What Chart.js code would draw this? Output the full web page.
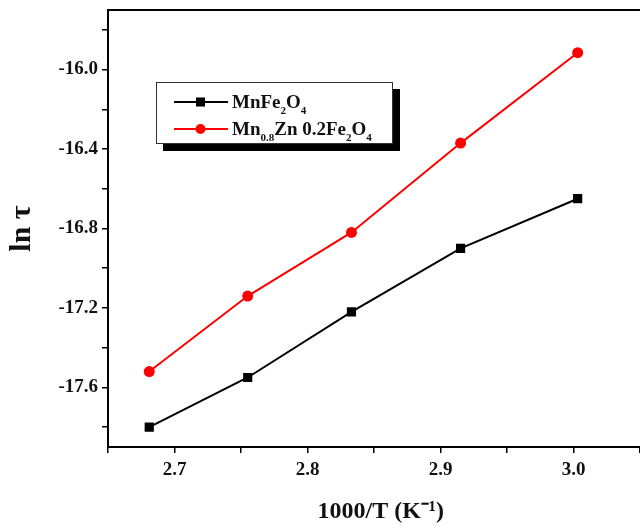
<!DOCTYPE html>
<html>
<head>
<meta charset="utf-8">
<script src="https://cdn.jsdelivr.net/npm/chart.js@4.4.1/dist/chart.umd.min.js"></script>
<style>
  body { margin: 0; overflow: hidden; background: #fff; width: 640px; height: 526px; }
  #wrap { position: absolute; left: 0; top: 0; width: 660px; height: 526px; }
  #legend {
    position: absolute; left: 156px; top: 82px; width: 235px; height: 60px;
    border: 1.5px solid #333; background: #fff; box-shadow: 7px 7px 0 #000;
    font: bold 19px 'Liberation Serif', 'Times New Roman', serif; color: #111;
  }
  .row { position: absolute; left: 17px; height: 24px; line-height: 24px; white-space: nowrap; }
  .row svg { vertical-align: middle; margin-right: 4px; }
  .row span { vertical-align: middle; }
  sub { font-size: 11px; vertical-align: -6px; line-height: 0; }
</style>
</head>
<body>
<div id="wrap"><canvas id="chart" width="660" height="526"></canvas></div>
<div id="legend">
  <div class="row" style="top:5px">
    <svg width="54" height="12"><line x1="0" y1="6" x2="54" y2="6" stroke="#000" stroke-width="2"/><rect x="22" y="1.5" width="9" height="9" fill="#000"/></svg><span>MnFe<sub>2</sub>O<sub>4</sub></span>
  </div>
  <div class="row" style="top:32px">
    <svg width="54" height="12"><line x1="0" y1="6" x2="54" y2="6" stroke="#f00" stroke-width="2"/><circle cx="26.5" cy="6" r="5" fill="#f00"/></svg><span>Mn<sub>0.8</sub>Zn 0.2Fe<sub>2</sub>O<sub>4</sub></span>
  </div>
</div>
<script>
// 1000/T values
const invT = [2.681, 2.755, 2.833, 2.915, 3.003]
// ln tau for each sample
const mnFe = [-17.80, -17.55, -17.22, -16.90, -16.65]
const mnZnFe = [-17.52, -17.14, -16.82, -16.37, -15.915]

const xTicks = [2.65, 2.70, 2.75, 2.80, 2.85, 2.90, 2.95, 3.00, 3.05]
const xLabels = [2.7, 2.8, 2.9, 3.0]
const yTicks = [-17.8, -17.6, -17.4, -17.2, -17.0, -16.8, -16.6, -16.4, -16.2, -16.0, -15.8]
const yLabels = [-17.6, -17.2, -16.8, -16.4, -16.0]

const serif = "'Liberation Serif', 'Times New Roman', serif"
const tickFont = { family: serif, size: 19, weight: 'bold' }

const toPoints = (ys) => invT.map((x, i) => ({ x: x, y: ys[i] }))
const isLabel = (list, v) => list.some((l) => Math.abs(l - v) < 1e-6)

const topBorder = {
  id: 'topBorder',
  afterDraw(chart) {
    const { ctx, chartArea } = chart
    ctx.save()
    ctx.strokeStyle = '#000'
    ctx.lineWidth = 2
    ctx.beginPath()
    ctx.moveTo(chartArea.left - 1, chartArea.top)
    ctx.lineTo(chartArea.right, chartArea.top)
    ctx.stroke()
    ctx.restore()
  }
}

let ctx = document.getElementById('chart').getContext('2d')

let chart = new Chart(ctx, {
  type: 'line',
  data: {
    datasets: [{
      label: 'MnFe2O4',
      data: toPoints(mnFe),
      borderColor: '#000',
      backgroundColor: '#000',
      borderWidth: 2,
      pointStyle: 'rect',
      pointRadius: 6.5,
      pointBorderWidth: 0,
      pointHoverRadius: 6.5
    }, {
      label: 'Mn0.8Zn 0.2Fe2O4',
      data: toPoints(mnZnFe),
      borderColor: '#f00',
      backgroundColor: '#f00',
      borderWidth: 2,
      pointStyle: 'circle',
      pointRadius: 5.5,
      pointBorderWidth: 0,
      pointHoverRadius: 5.5
    }]
  },
  options: {
    responsive: false,
    animation: false,
    layout: { padding: { top: 10, right: 3, left: 0, bottom: 0 } },
    plugins: { legend: { display: false }, tooltip: { enabled: false } },
    scales: {
      x: {
        type: 'linear',
        min: 2.65,
        max: 3.06,
        afterBuildTicks: (scale) => { scale.ticks = xTicks.map((v) => ({ value: v })) },
        afterFit: (scale) => { scale.height = 79; scale.paddingLeft = 0; scale.paddingRight = 0 },
        grid: { drawOnChartArea: false, drawTicks: true, tickLength: 6, color: '#000', lineWidth: 1.5 },
        border: { display: true, color: '#000', width: 2 },
        ticks: {
          color: '#111',
          font: tickFont,
          padding: 6,
          maxRotation: 0,
          autoSkip: false,
          callback: (v) => isLabel(xLabels, v) ? v.toFixed(1) : ''
        },
        title: {
          display: true,
          text: '1000/T (K\u207B\u00B9)',
          color: '#111',
          font: { family: serif, size: 24, weight: 'bold' },
          padding: { top: 0, bottom: 0 }
        }
      },
      y: {
        type: 'linear',
        min: -17.9,
        max: -15.7,
        afterBuildTicks: (scale) => { scale.ticks = yTicks.map((v) => ({ value: v })) },
        afterFit: (scale) => { scale.width = 108; scale.paddingTop = 0; scale.paddingBottom = 0 },
        grid: { drawOnChartArea: false, drawTicks: true, tickLength: 6, color: '#000', lineWidth: 1.5 },
        border: { display: true, color: '#000', width: 2 },
        ticks: {
          color: '#111',
          font: tickFont,
          padding: 4,
          autoSkip: false,
          callback: (v) => isLabel(yLabels, v) ? v.toFixed(1) : ''
        },
        title: {
          display: true,
          text: 'ln \u03C4',
          color: '#111',
          font: { family: serif, size: 30, weight: 'bold' },
          padding: { top: 4, bottom: 4 }
        }
      }
    }
  },
  plugins: [topBorder]
})
</script>
</body>
</html>
